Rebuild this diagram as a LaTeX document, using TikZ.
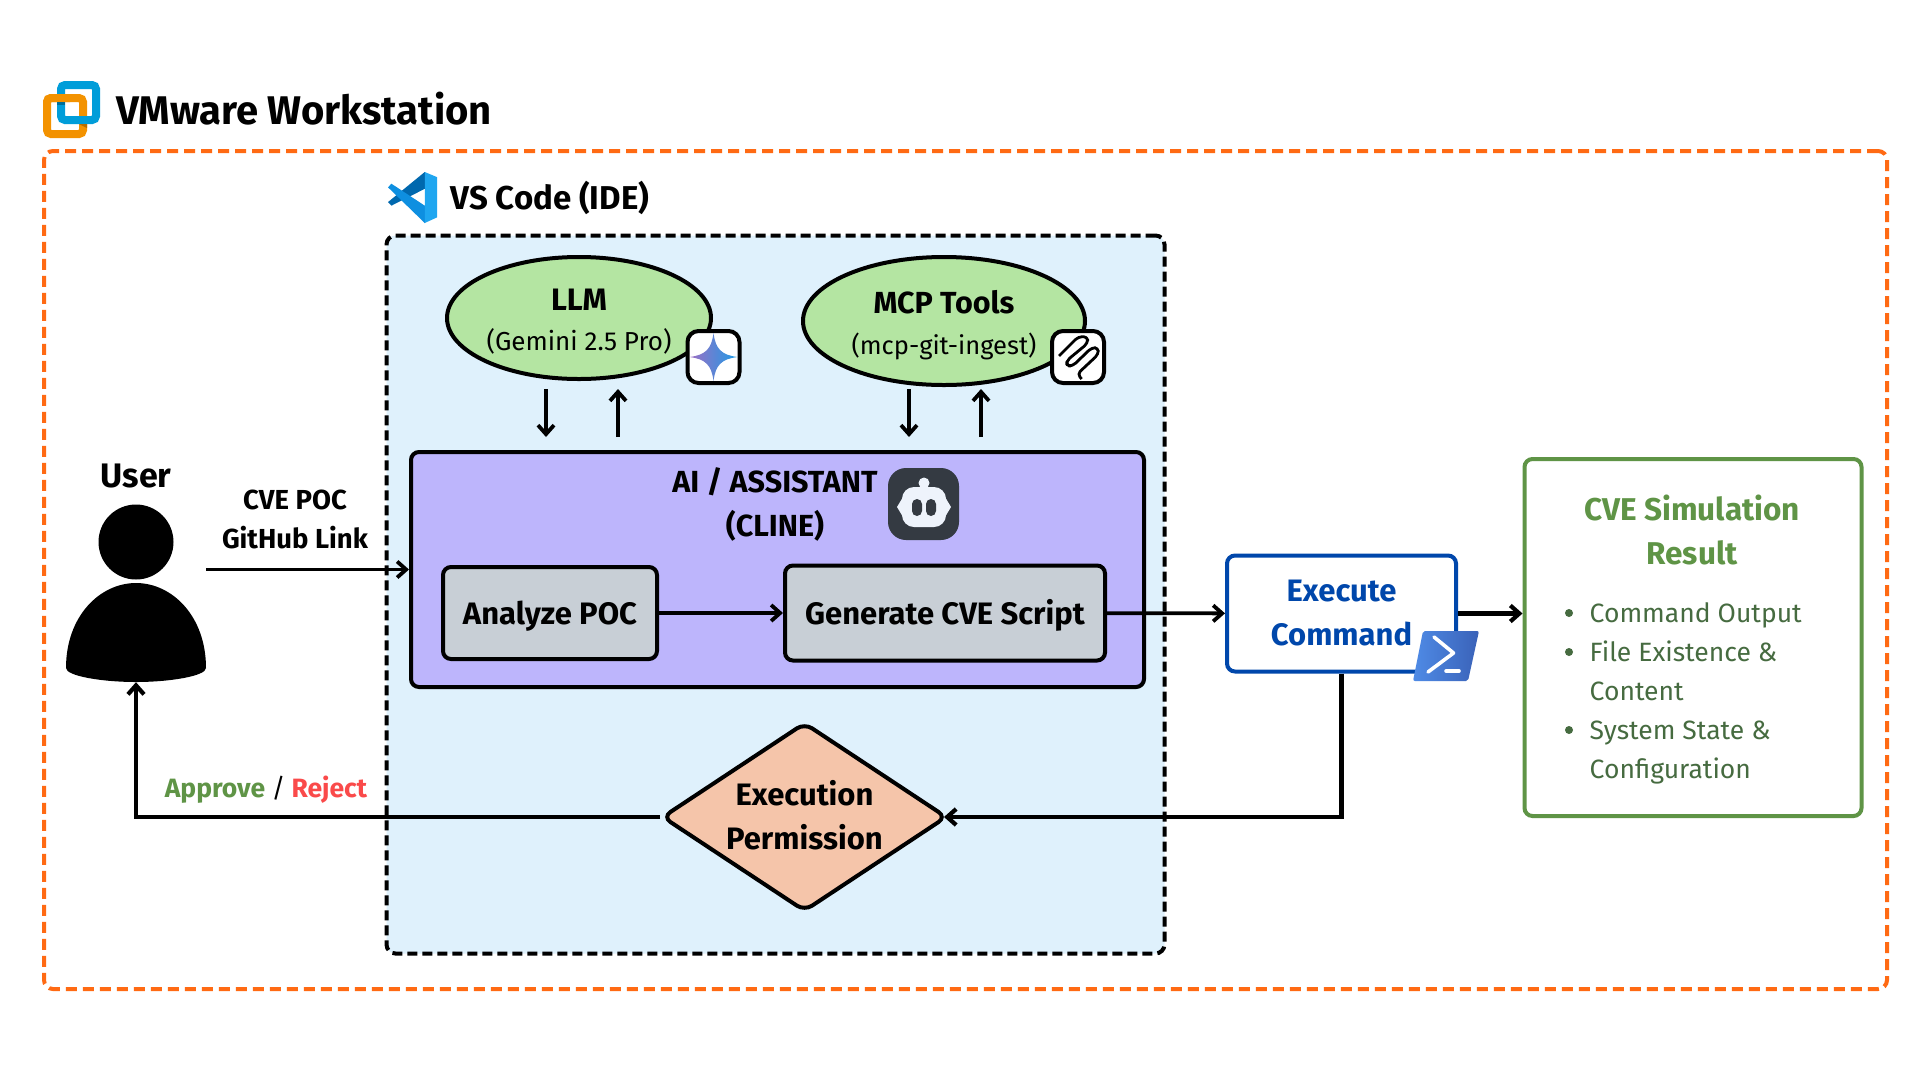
\documentclass[tikz,border=0pt]{standalone}
\usepackage{fontspec}
\setmainfont{Fira Sans}
\usetikzlibrary{shapes.geometric,arrows.meta,calc}
\definecolor{orangeline}{HTML}{FF6A13}
\definecolor{vsfill}{HTML}{DFF1FC}
\definecolor{llmgreen}{HTML}{B4E5A2}
\definecolor{purplefill}{HTML}{BDB5FC}
\definecolor{grayfill}{HTML}{C8CFD6}
\definecolor{execblue}{HTML}{0047AB}
\definecolor{resgreen}{HTML}{5F9446}
\definecolor{bulletgreen}{HTML}{466B40}
\definecolor{peach}{HTML}{F5C5AA}
\definecolor{rejectred}{HTML}{FA4A4A}
\definecolor{botdark}{HTML}{343A42}
\definecolor{botlight}{HTML}{EEF3FB}
\definecolor{vmorange}{HTML}{F39200}
\definecolor{vmblue}{HTML}{009DD9}
\definecolor{vsa}{HTML}{0E8FE0}
\definecolor{vsb}{HTML}{0068AE}
\definecolor{vsc}{HTML}{1FA6F0}
\definecolor{gema}{HTML}{9C6FC4}
\definecolor{gemb}{HTML}{1E9BE6}
\definecolor{psa}{HTML}{4F8BE6}
\definecolor{psb}{HTML}{3A62B8}
\newcommand{\fs}[2]{\fontsize{#1}{#2}\selectfont}
\tikzset{
  outerbox/.style={draw=orangeline,line width=4pt,dash pattern=on 11pt off 6pt,rounded corners=9pt,inner sep=0pt},
  vsbox/.style={draw=black,fill=vsfill,line width=4pt,dash pattern=on 10pt off 5pt,rounded corners=9pt,inner sep=0pt},
  solidbox/.style={draw=black,line width=4pt,rounded corners=8pt,inner sep=0pt,align=center},
  oval/.style={ellipse,draw=black,fill=llmgreen,line width=4pt,inner sep=0pt},
  iconbox/.style={draw=black,fill=white,line width=4pt,rounded corners=11pt,inner sep=0pt},
  arr/.style={draw=black,line width=3.8pt,-{Straight Barb[length=9pt,width=16pt,line width=3.8pt]}},
  arrthick/.style={draw=black,line width=4.3pt,-{Straight Barb[length=9pt,width=16pt,line width=4.2pt]}},
  txt/.style={inner sep=0pt,anchor=base,align=center},
}
\begin{document}
\begin{tikzpicture}[x=1pt,y=-1pt]
\path[use as bounding box,fill=white] (0,0) rectangle (1920,1080);

% outer box
\node[outerbox,minimum width=1843pt,minimum height=838pt] (vmbox) at (965.5,570) {};

% VMware logo
\draw[line width=8pt,draw=vmorange,rounded corners=4pt] (47,98) rectangle (83,134);
\draw[line width=8pt,draw=vmblue,rounded corners=4pt] (61,85) rectangle (96,120);
\begin{scope}
\clip (43,94) rectangle (70,102);
\draw[line width=8pt,draw=vmorange,rounded corners=4pt] (47,98) rectangle (83,134);
\end{scope}
\fill[vmblue!70!black] (57,102)--(65,102)--(65,105)--(57,105)--cycle;
\fill[vmorange!75!black] (79,124)--(87,124)--(87,128)--cycle;
\node[txt,font=\bfseries\fs{40}{44}] (vmtitle) at (304,124.5) {VMware Workstation};

% VS Code logo
\begin{scope}[shift={(388,172)},x=0.49pt,y=-0.51pt]
\fill[vsb] (75,0)--(75,33)--(7,66)--(0,59)--cycle;
\fill[vsa] (7,23)--(0,30)--(75,100)--(75,66)--cycle;
\fill[vsc] (75,0)--(100,10)--(100,89)--(75,100)--cycle;
\end{scope}
\node[txt,font=\bfseries\fs{33}{36}] (vstitle) at (550,209) {VS Code (IDE)};

% VS box
\node[vsbox,minimum width=778pt,minimum height=718pt] (vsarea) at (775.5,594.5) {};

% Ellipses
\node[oval,minimum width=264pt,minimum height=122pt] (llm) at (579,318) {};
\node[txt,font=\fs{26}{40}] (llmtext) at (579,350) {{\bfseries\fs{31}{40}\selectfont LLM}\\(Gemini 2.5 Pro)};
\node[oval,minimum width=282pt,minimum height=128pt] (mcp) at (944,321) {};
\node[txt,font=\fs{25.5}{41}] (mcptext) at (944,354) {{\bfseries\fs{30.5}{41}\selectfont MCP Tools}\\(mcp-git-ingest)};

% Gemini icon
\node[iconbox,minimum width=52pt,minimum height=52pt] (gemini) at (713.5,357) {};
\shade[left color=gema,right color=gemb] (713.5,333)
  .. controls (715.5,349) and (721.5,355) .. (737.5,357)
  .. controls (721.5,359) and (715.5,365) .. (713.5,381)
  .. controls (711.5,365) and (705.5,359) .. (689.5,357)
  .. controls (705.5,355) and (711.5,349) .. (713.5,333) -- cycle;

% MCP icon
\node[iconbox,minimum width=52pt,minimum height=52pt] (mcpicon) at (1078,357) {};
\begin{scope}[shift={(1040,320)},x=0.3333pt,y=-0.3333pt]
\draw[line width=2.8pt,rounded corners=4pt,line join=round] (57,108)--(115,50)--(143,50)--(143,70)--(80,122)--(80,138)--(98,138)--(155,83)--(175,83)--(175,103)--(112,162)--(125,177);
\end{scope}

% Purple
\node[solidbox,fill=purplefill,minimum width=733pt,minimum height=235pt] (assistant) at (777.5,569.5) {};
\node[txt,font=\bfseries\fs{30.5}{44}] (aititle) at (775,536.5) {AI / ASSISTANT\\(CLINE)};

% Bot icon
\fill[botdark,rounded corners=18pt] (888,468) rectangle (959,540);
\fill[botlight,rounded corners=12pt] (902,487) rectangle (946,527);
\fill[botlight] (924,483) circle (5.5pt);
\fill[botlight] (897,507)--(903,497)--(903,517)--cycle;
\fill[botlight] (951,507)--(945,497)--(945,517)--cycle;
\fill[botdark,rounded corners=5pt] (912,499) rectangle (922,516);
\fill[botdark,rounded corners=5pt] (926,499) rectangle (936,516);

% Inner boxes
\node[solidbox,fill=grayfill,minimum width=214pt,minimum height=92pt,text height=30pt,text depth=8pt,font=\bfseries\fs{31}{36}] (analyze) at (550,613) {Analyze POC};
\node[solidbox,fill=grayfill,minimum width=320pt,minimum height=95pt,text height=30pt,text depth=8pt,font=\bfseries\fs{31}{36}] (generate) at (945,613) {Generate CVE Script};

% Execute
\node[solidbox,draw=execblue,text=execblue,fill=white,minimum width=229pt,minimum height=116pt,font=\bfseries\fs{31}{44}] (exec) at (1341.5,613.5) {Execute\\Command};
% PowerShell icon
\shade[left color=psa,right color=psb,rounded corners=2pt] (1423,631)--(1479,631)--(1468,681)--(1413,681)--cycle;
\draw[white,line width=3.6pt,line cap=round,line join=round] (1434,637)--(1453.5,653)--(1428,672);
\draw[white,line width=3.6pt,line cap=round] (1446,671)--(1459,671);

% Result
\node[solidbox,draw=resgreen,fill=white,minimum width=337pt,minimum height=357pt] (result) at (1693,637.5) {};
\node[txt,text=resgreen,font=\bfseries\fs{31.5}{44}] (restitle) at (1692,564) {CVE Simulation\\Result};
\node[inner sep=0pt,anchor=base west,text=bulletgreen,font=\fs{26.5}{39},align=left] (resitems) at (1589.5,778)
  {Command Output\\File Existence \&\\Content\\System State \&\\Configuration};
\foreach \yy in {613,652,730}{\fill[bulletgreen] (1569,\yy) circle (4pt);}

% Diamond
\node[diamond,draw=black,fill=peach,line width=4pt,rounded corners=9pt,inner sep=0pt,minimum width=285pt,minimum height=189pt] (perm) at (804.5,817) {};
\node[txt,font=\bfseries\fs{31}{44}] (permtext) at (804.5,849.5) {Execution\\Permission};

% User
\node[inner sep=0pt,minimum width=140pt,minimum height=99pt] (userbody) at (136,632.5) {};
\fill[black] (66,668) .. controls (66,616) and (100,583) .. (136,583) .. controls (172,583) and (206,616) .. (206,668) .. controls (206,676) and (170,682) .. (136,682) .. controls (102,682) and (66,676) .. (66,668) -- cycle;
\fill[black] (136,542) circle (37.5pt);
\node[txt,font=\bfseries\fs{34}{36}] (userlabel) at (136,487) {User};

% labels
\node[txt,font=\bfseries\fs{27.5}{39}] (poclabel) at (295,548) {CVE POC\\GitHub Link};
\node[txt,font=\bfseries\fs{26.5}{32}] (decision) at (266,797) {\textcolor{resgreen}{Approve} {\mdseries/} \textcolor{rejectred}{Reject}};

% connectors
\draw[arr] (userbody.east |- assistant.west) -- (assistant.west);
\draw[arr] (analyze) -- (generate);
\draw[arr] (generate) -- (exec);
\draw[arrthick] (exec.east) -- (exec.east -| result.west);
\draw[arrthick,shorten >=-5pt] (exec.south) |- (perm.east);
\draw[arrthick] (perm.west) -| (userbody.south);

\coordinate (a1) at (546,389); \coordinate (a2) at (546,437);
\coordinate (b1) at (618,437); \coordinate (b2) at (618,389);
\coordinate (c1) at (909,389); \coordinate (c2) at (909,437);
\coordinate (d1) at (981,437); \coordinate (d2) at (981,389);
\draw[arr] (a1) -- (a2);
\draw[arr] (b1) -- (b2);
\draw[arr] (c1) -- (c2);
\draw[arr] (d1) -- (d2);
\end{tikzpicture}
\end{document}
